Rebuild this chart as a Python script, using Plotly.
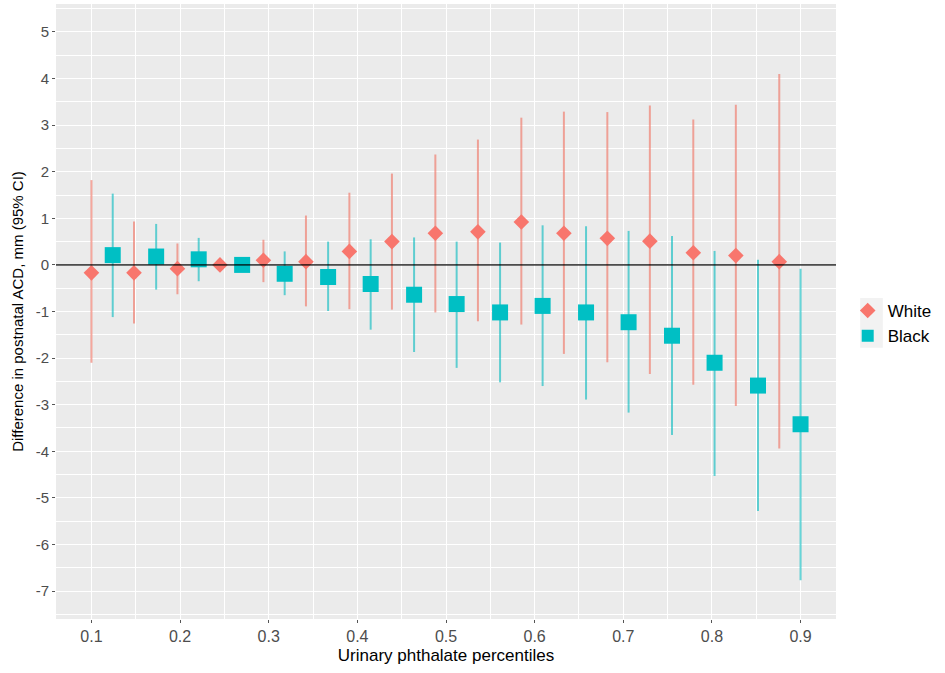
import plotly.graph_objects as go

# percentile positions (dodged: White on even steps, Black on odd steps)
white_x = [0.100, 0.148, 0.197, 0.245, 0.294, 0.342, 0.391, 0.439, 0.488,
           0.536, 0.585, 0.633, 0.682, 0.730, 0.779, 0.827, 0.876]
black_x = [0.124, 0.173, 0.221, 0.270, 0.318, 0.367, 0.415, 0.464, 0.512,
           0.561, 0.609, 0.658, 0.706, 0.755, 0.803, 0.852, 0.900]

# difference in postnatal ACD (mm) with 95% CI
white_est = [-0.17, -0.17, -0.08, 0.00, 0.10, 0.07, 0.29, 0.50, 0.68,
             0.71, 0.92, 0.68, 0.57, 0.51, 0.26, 0.20, 0.07]
white_lo = [-2.10, -1.26, -0.63, -0.05, -0.37, -0.89, -0.95, -0.96, -1.02,
            -1.21, -1.28, -1.91, -2.09, -2.34, -2.57, -3.03, -3.94]
white_hi = [1.82, 0.93, 0.46, 0.05, 0.54, 1.06, 1.55, 1.96, 2.37,
            2.69, 3.16, 3.29, 3.28, 3.42, 3.12, 3.44, 4.10]

black_est = [0.21, 0.18, 0.12, 0.00, -0.19, -0.26, -0.41, -0.64, -0.84,
             -1.02, -0.88, -1.02, -1.23, -1.52, -2.10, -2.59, -3.42]
black_lo = [-1.12, -0.53, -0.35, -0.10, -0.65, -0.99, -1.39, -1.87, -2.21,
            -2.52, -2.60, -2.89, -3.17, -3.65, -4.53, -5.28, -6.77]
black_hi = [1.53, 0.88, 0.58, 0.10, 0.29, 0.50, 0.55, 0.59, 0.50,
            0.48, 0.85, 0.83, 0.73, 0.62, 0.30, 0.11, -0.08]

x_ticks = [0.1, 0.2, 0.3, 0.4, 0.5, 0.6, 0.7, 0.8, 0.9]
y_ticks = [-7, -6, -5, -4, -3, -2, -1, 0, 1, 2, 3, 4, 5]
y_labels = ['-7', '-6', '-5', '-4', '-3', '-2', '-1', '0', '1', '2', '3', '4', '5']

RED = '#F8766D'
TEAL = '#00BFC4'


def err(est, lo, hi):
    return dict(type='data', symmetric=False,
                array=[h - e for e, h in zip(est, hi)],
                arrayminus=[e - l for e, l in zip(est, lo)])


fig = go.Figure()

e = err(white_est, white_lo, white_hi)
e.update(color='rgba(240,120,105,0.65)', thickness=2, width=0)
fig.add_trace(go.Scatter(x=white_x, y=white_est, mode='markers', name='White',
                         marker=dict(symbol='diamond', size=12, color=RED),
                         error_y=e))

e = err(black_est, black_lo, black_hi)
e.update(color='rgba(0,185,190,0.6)', thickness=2, width=0)
fig.add_trace(go.Scatter(x=black_x, y=black_est, mode='markers', name='Black',
                         marker=dict(symbol='square', size=16, color=TEAL),
                         error_y=e))

# reference line at zero, drawn over the points like in the original
fig.add_hline(y=0, line=dict(color='rgba(0,0,0,0.7)', width=1.8), layer='above')

# grey background behind the legend keys (ggplot style)
fig.add_shape(type='rect', xref='paper', yref='paper',
              x0=1.031, x1=1.060, y0=0.441, y1=0.522,
              fillcolor='#F2F2F2', line_width=0, layer='below')

fig.update_xaxes(range=[0.06, 0.94], tickvals=x_ticks,
                 ticktext=[str(v) for v in x_ticks], automargin=False,
                 showgrid=True, gridcolor='white', gridwidth=1.2,
                 minor=dict(dtick=0.05, tick0=0.05, showgrid=True,
                            gridcolor='white', gridwidth=0.6),
                 ticks='outside', ticklen=3, tickcolor='#555555',
                 tickfont=dict(size=16, color='#4D4D4D'),
                 zeroline=False, showline=False,
                 title=dict(text='Urinary phthalate percentiles',
                            font=dict(size=17, color='black'), standoff=4))

fig.update_yaxes(range=[-7.6, 5.6], tickvals=y_ticks, ticktext=y_labels,
                 automargin=False,
                 showgrid=True, gridcolor='white', gridwidth=1.2,
                 minor=dict(dtick=0.5, tick0=0.5, showgrid=True,
                            gridcolor='white', gridwidth=0.6),
                 ticks='outside', ticklen=3, tickcolor='#555555',
                 tickfont=dict(size=15, color='#4D4D4D'),
                 zeroline=False, showline=False,
                 title=dict(text='Difference in postnatal ACD, mm (95% CI)',
                            font=dict(size=15, color='black'), standoff=8))

fig.update_layout(width=945, height=673,
                  margin=dict(l=56, r=109, t=4, b=54),
                  plot_bgcolor='#EBEBEB', paper_bgcolor='white',
                  font=dict(family='Liberation Sans, Arial, sans-serif'),
                  legend=dict(x=1.015, y=0.4805, xanchor='left', yanchor='middle',
                              font=dict(size=17, color='black'),
                              tracegroupgap=0, itemsizing='constant',
                              bgcolor='rgba(0,0,0,0)'),
                  showlegend=True)

# drop the default page margin so the figure sits at the window origin
fig.write_html("out.html", config={'displayModeBar': False},
               post_script="document.body.style.margin='0';")
